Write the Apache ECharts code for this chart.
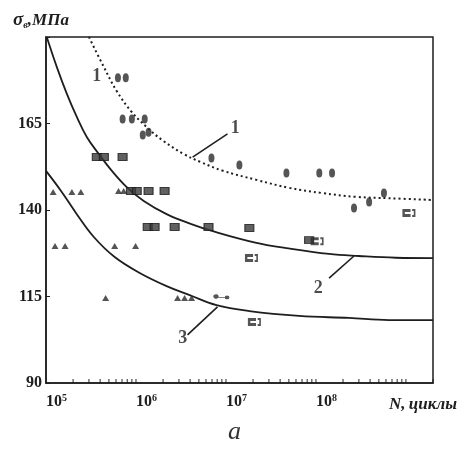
<!DOCTYPE html>
<html>
<head>
<meta charset="utf-8">
<script src="https://cdn.jsdelivr.net/npm/echarts@6/dist/echarts.min.js"></script>
<style>
html,body{margin:0;padding:0;background:#fff;}
#chart{width:469px;height:452px;}
</style>
</head>
<body>
<div id="chart"></div>
<script>
// ---- data (N, cycles ; sigma, MPa) ----
const xTickLabels = [1e5, 1e6, 1e7, 1e8];
const yTickValues = [90, 115, 140, 165, 190];

const curve1 = [[3.0e5,190],[4.4e5,181.3],[6.1e5,174.4],[8.8e5,168.6],[1.31e6,164.0],[2.03e6,159.9],[3.38e6,156.2],[5.2e6,153.9],[9.1e6,151.4],[2.18e7,148.7],[5.06e7,146.4],[1.17e8,144.9],[2.79e8,143.8],[6.5e8,143.4],[2.0e9,142.9]];
const curve2 = [[1.02e5,190],[1.32e5,181.3],[1.71e5,173.5],[2.2e5,166.9],[2.84e5,161.1],[3.86e5,156.2],[5.4e5,151.3],[7.9e5,146.6],[1.22e6,142.6],[2.19e6,138.8],[4.05e6,136.0],[7.3e6,133.8],[2.18e7,130.5],[4.68e7,129.0],[1.4e8,127.3],[3.0e8,126.7],[7.7e8,126.2],[2.0e9,126.1]];
const curve3 = [[1.0e5,151.3],[1.47e5,145.5],[2.2e5,138.8],[3.4e5,132.2],[5.8e5,126.4],[1.1e6,121.8],[2.19e6,118.0],[3.95e6,115.4],[7.85e6,112.5],[1.82e7,110.8],[6.5e7,109.4],[2.33e8,108.8],[6.5e8,108.2],[2.0e9,108.2]];

const circles = [[6.3e5,178.2],[7.7e5,178.2],[7.1e5,166.3],[9.0e5,166.3],[1.25e6,166.3],[1.19e6,161.7],[1.38e6,162.5],[6.9e6,155.0],[1.41e7,153.0],[4.7e7,150.7],[1.09e8,150.7],[1.51e8,150.7],[2.65e8,140.6],[3.9e8,142.3],[5.7e8,144.9]];
const squares = [[3.67e5,155.3],[4.4e5,155.3],[7.1e5,155.3],[8.8e5,145.5],[1.02e6,145.5],[1.38e6,145.5],[2.08e6,145.5],[1.35e6,135.1],[1.61e6,135.1],[2.69e6,135.1],[6.4e6,135.1],[1.82e7,134.8],[8.4e7,131.3]];
const triangles = [[1.2e5,145.2],[1.94e5,145.2],[2.44e5,145.2],[6.4e5,145.5],[7.3e5,145.5],[1.26e5,129.6],[1.63e5,129.6],[5.8e5,129.6],[9.9e5,129.6],[4.6e5,114.6],[2.9e6,114.6],[3.47e6,114.6],[4.15e6,114.6]];
const runouts = [[1.03e8,131.0],[1.92e7,126.1],[1.08e9,139.1],[2.07e7,107.6]];
const runoutDot = [[8.9e6,114.9]];

const annoText = ['1', '1', '2', '3'];
const annoPos = [[3.67e5,178.6],[1.27e7,163.7],[1.06e8,117.5],[3.3e6,103.0]];
const leaders = [
  [[4.26e6,155.3],[1.04e7,162.0]],
  [[1.4e8,120.3],[2.65e8,126.7]],
  [[3.74e6,103.9],[8.05e6,112.0]]
];

// minor ticks of the logarithmic N axis (2..9 x 10^k)
const minorTicks = [];
for (let e = 5; e <= 9; e++) for (let m = 1; m <= 9; m++) { const v = m * Math.pow(10, e); if (v <= 2e9 && v > 1e5) minorTicks.push(v); }

const ink = '#1e1e1e';
const serif = '"Liberation Serif","DejaVu Serif",serif';

const chart = echarts.init(document.getElementById('chart'), null, {renderer:'canvas'});
chart.setOption({
  backgroundColor: '#fff',
  animation: false,
  title: {
    text: 'а', left: 'center', top: 414,
    textStyle: {fontFamily: serif, fontStyle: 'italic', fontWeight: 'normal', fontSize: 26, color: '#333'}
  },
  grid: {left: 46, right: 36, top: 37, bottom: 69, show: true, borderColor: ink, borderWidth: 1.5, backgroundColor: 'transparent'},
  xAxis: {
    type: 'log', logBase: 10, min: 1e5, max: 2e9,
    axisLine: {show: true, lineStyle: {color: ink, width: 1.5}},
    splitLine: {show: false},
    axisTick: {show: false},
    axisLabel: {
      customValues: xTickLabels, align: 'left', margin: 10,
      formatter: v => '{b|10}{s|' + Math.round(Math.log10(v)) + '}',
      rich: {
        b: {fontFamily: serif, fontWeight: 'bold', fontSize: 16, color: ink},
        s: {fontFamily: serif, fontWeight: 'bold', fontSize: 10, color: ink, verticalAlign: 'top', padding: [0,0,8,0]}
      }
    },
    name: '{n|N,} {c|циклы}', nameLocation: 'end', nameGap: -10,
    nameTextStyle: {
      align: 'center', verticalAlign: 'top', padding: [13,0,0,0],
      rich: {
        n: {fontFamily: serif, fontWeight: 'bold', fontStyle: 'italic', fontSize: 17, color: ink},
        c: {fontFamily: serif, fontWeight: 'bold', fontStyle: 'italic', fontSize: 17, color: ink}
      }
    }
  },
  yAxis: {
    type: 'value', min: 90, max: 190, interval: 25,
    axisLine: {show: true, lineStyle: {color: ink, width: 1.5}},
    splitLine: {show: false},
    axisTick: {show: true, inside: true, length: 4, lineStyle: {color: ink}},
    axisLabel: {
      margin: 4, fontFamily: serif, fontWeight: 'bold', fontSize: 16, color: ink,
      formatter: v => (yTickValues.indexOf(v) >= 0 && v !== 190) ? String(v) : ''
    },
    name: '{a|σ}{b|в}{c|,МПа}', nameLocation: 'end', nameGap: 7,
    nameTextStyle: {
      align: 'center', padding: [0, 10, 0, 0],
      rich: {
        a: {fontFamily: serif, fontWeight: 'bold', fontStyle: 'italic', fontSize: 19, color: ink},
        b: {fontFamily: serif, fontWeight: 'bold', fontStyle: 'italic', fontSize: 10, color: ink, verticalAlign: 'bottom', padding: [7,0,0,0]},
        c: {fontFamily: serif, fontWeight: 'bold', fontStyle: 'italic', fontSize: 17, color: ink}
      }
    }
  },
  series: [
    {type: 'line', data: curve1, smooth: 0.4, symbol: 'none', lineStyle: {color: ink, width: 2, type: [2, 3]}, z: 2},
    {type: 'line', data: curve2, smooth: 0.4, symbol: 'none', lineStyle: {color: ink, width: 1.8}, z: 2,
      markLine: {silent: true, symbol: 'none', label: {show: false}, lineStyle: {color: ink, width: 1.6, type: 'solid'},
        data: leaders.map(p => [{coord: p[0]}, {coord: p[1]}])}
    },
    {type: 'line', data: curve3, smooth: 0.4, symbol: 'none', lineStyle: {color: ink, width: 1.8}, z: 2},
    {type: 'scatter', data: circles, symbol: 'circle', symbolSize: [6, 9], itemStyle: {color: '#2a2a2a'}, z: 3},
    {type: 'scatter', data: squares, symbol: 'rect', symbolSize: [9, 7], itemStyle: {color: '#3a3a3a', borderColor: '#1a1a1a', borderWidth: 1}, z: 3},
    {type: 'scatter', data: triangles, symbol: 'triangle', symbolSize: [7, 6], itemStyle: {color: '#2a2a2a'}, z: 3},
    {type: 'scatter', data: runouts, symbol: 'path://M0,0 L10,0 L10,3 L3,3 L3,5 L10,5 L10,8 L0,8 Z M12,0 L16,0 L16,8 L12,8 L12,6 L14,6 L14,2 L12,2 Z', symbolSize: [13, 8], itemStyle: {color: '#2a2a2a'}, z: 3},
    {type: 'scatter', data: runoutDot, symbol: 'path://M0,3 A3,3 0 1,0 6,0 A3,3 0 1,0 0,3 Z M6,2.4 L14,2.4 L14,3.6 L6,3.6 Z M14,3 A3,3 0 1,0 20,3 A3,3 0 1,0 14,3 Z', symbolSize: [16, 5], itemStyle: {color: '#2a2a2a'}, z: 3},
    // log-axis tick marks along the N axis
    {type: 'scatter', data: minorTicks.map(v => [v, 90]), symbol: 'rect', symbolSize: [1.2, 4], symbolOffset: [0, -2], clip: false, silent: true, itemStyle: {color: ink}, z: 5},
    {type: 'scatter', data: annoPos.map((p, i) => ({value: p, name: annoText[i]})), symbolSize: 0, z: 4,
      label: {show: true, position: 'inside', formatter: p => p.name, fontFamily: serif, fontWeight: 'bold', fontSize: 18, color: ink}}
  ]
});
</script>
</body>
</html>
